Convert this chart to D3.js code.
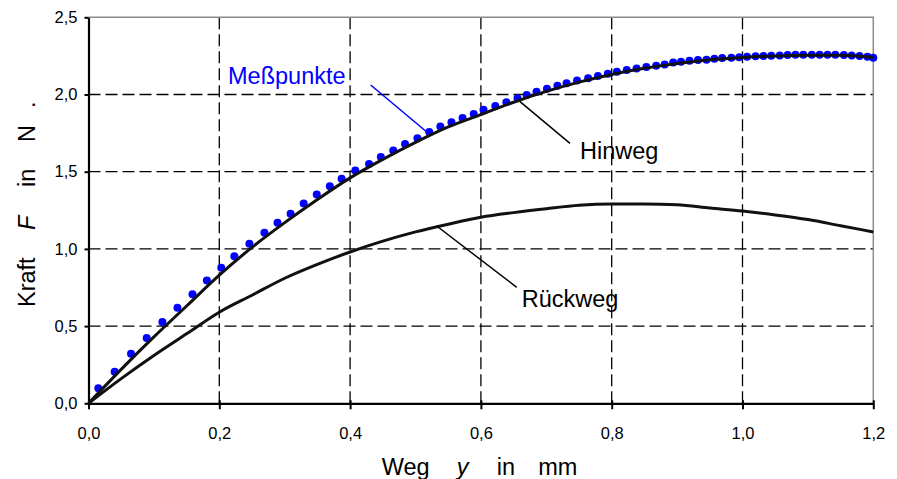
<!DOCTYPE html>
<html>
<head>
<meta charset="utf-8">
<script src="https://cdn.jsdelivr.net/npm/d3@7"></script>
<style>
  html, body { margin: 0; padding: 0; background: #fff; }
  svg { display: block; font-family: "Liberation Sans", Arial, sans-serif; }
</style>
</head>
<body>
<svg id="chart" width="897" height="479"></svg>
<script>
// ---- data ----
const xTicks = [0, 0.2, 0.4, 0.6, 0.8, 1.0, 1.2];
const xTickLabels = ["0,0", "0,2", "0,4", "0,6", "0,8", "1,0", "1,2"];
const yTicks = [0, 0.5, 1.0, 1.5, 2.0, 2.5];
const yTickLabels = ["0,0", "0,5", "1,0", "1,5", "2,0", "2,5"];

// Meßpunkte (measured points)
const pointsX = [0.015,0.040,0.065,0.089,0.113,0.136,0.159,0.181,0.203,0.223,0.246,0.269,0.289,
  0.309,0.329,0.349,0.369,0.387,0.408,0.429,0.447,0.466,0.484,0.503,0.521,0.538,0.555,0.572,0.589,
  0.604,0.622,0.639,0.656,0.670,0.685,0.701,0.717,0.731,0.747,0.764,0.779,0.794,0.808,0.823,0.838,0.853,0.868,0.881,
  0.894,0.906,0.919,0.932,0.945,0.957,0.969,0.983,0.995,1.007,1.020,1.032,1.044,1.057,1.069,1.081,1.093,1.106,1.118,1.130,1.142,1.155,1.167,1.179,1.191,1.200];
const pointsF = [0.097,0.205,0.321,0.423,0.526,0.619,0.707,0.796,0.878,0.953,1.033,1.104,1.169,
  1.227,1.294,1.352,1.406,1.455,1.507,1.550,1.596,1.638,1.680,1.716,1.757,1.792,1.820,1.848,1.874,
  1.902,1.925,1.950,1.975,1.997,2.018,2.038,2.056,2.073,2.090,2.106,2.120,2.134,2.147,2.158,2.168,2.178,2.187,2.195,
  2.208,2.212,2.219,2.223,2.225,2.232,2.236,2.238,2.242,2.244,2.247,2.249,2.251,2.253,2.256,2.258,2.258,2.258,2.258,2.258,2.258,2.256,2.253,2.249,2.245,2.238];

// Hinweg curve
const hinX = [0,0.05,0.10,0.15,0.20,0.25,0.30,0.35,0.40,0.45,0.50,0.55,0.60,0.65,0.70,0.75,0.80,0.85,0.90,0.95,1.00,1.05,1.10,1.15,1.20];
const hinF = [0,0.22,0.43,0.63,0.83,1.01,1.17,1.32,1.46,1.58,1.69,1.79,1.87,1.95,2.02,2.08,2.13,2.17,2.20,2.225,2.24,2.25,2.255,2.255,2.24];

// Rückweg curve
const rueX = [0,0.05,0.10,0.15,0.20,0.25,0.30,0.35,0.40,0.45,0.50,0.55,0.60,0.65,0.70,0.75,0.80,0.85,0.90,0.95,1.00,1.05,1.10,1.15,1.20];
const rueF = [0,0.16,0.31,0.45,0.59,0.70,0.81,0.90,0.98,1.05,1.11,1.16,1.205,1.235,1.26,1.282,1.29,1.29,1.286,1.265,1.245,1.22,1.19,1.15,1.11];

// ---- layout ----
const svg = d3.select("#chart");
const L = 88.5, R = 873.3, T = 17.3, B = 403.3;
const x = d3.scaleLinear().domain([0, 1.2]).range([L, R]);
const y = d3.scaleLinear().domain([0, 2.5]).range([B, T]);

svg.append("rect").attr("width", 897).attr("height", 479).attr("fill", "#fff");

// grid
const grid = svg.append("g");
grid.selectAll("line.gx").data(xTicks.slice(1, -1)).enter().append("line")
  .attr("x1", d => x(d)).attr("x2", d => x(d)).attr("y1", T).attr("y2", B)
  .attr("stroke", "#000").attr("stroke-width", 1.3).attr("stroke-dasharray", "12,5");
grid.selectAll("line.gy").data(yTicks.slice(1, -1)).enter().append("line")
  .attr("y1", d => y(d)).attr("y2", d => y(d)).attr("x1", L).attr("x2", R)
  .attr("stroke", "#000").attr("stroke-width", 1.3).attr("stroke-dasharray", "12,5");

// frame top/right (gray)
svg.append("path").attr("d", `M${L},${T}H${R}V${B}`).attr("fill", "none")
  .attr("stroke", "#8c8c8c").attr("stroke-width", 1.5);

// axes
const xAxis = d3.axisBottom(x).tickValues(xTicks).tickFormat((d, i) => xTickLabels[i])
  .tickSizeInner(6).tickSizeOuter(0).tickPadding(18);
const gx = svg.append("g").attr("transform", `translate(0,${B})`).call(xAxis);
gx.select(".domain").attr("stroke", "#000").attr("stroke-width", 2.2);
gx.selectAll(".tick line").attr("stroke", "#000").attr("stroke-width", 2).attr("y1", -3);
gx.selectAll(".tick text").attr("font-size", "16.5px").attr("fill", "#000")
  .attr("font-family", "Liberation Sans, Arial, sans-serif");

const yAxis = d3.axisLeft(y).tickValues(yTicks).tickFormat((d, i) => yTickLabels[i])
  .tickSizeInner(4).tickSizeOuter(0).tickPadding(7);
const gy = svg.append("g").attr("transform", `translate(${L},0)`).call(yAxis);
gy.select(".domain").attr("stroke", "#000").attr("stroke-width", 2.2);
gy.selectAll(".tick line").attr("stroke", "#000").attr("stroke-width", 2);
gy.selectAll(".tick text").attr("font-size", "16.5px").attr("fill", "#000")
  .attr("font-family", "Liberation Sans, Arial, sans-serif");

// measured points
svg.append("g").selectAll("circle").data(pointsX.map((v, i) => [v, pointsF[i]])).enter()
  .append("circle").attr("cx", d => x(d[0])).attr("cy", d => y(d[1])).attr("r", 4)
  .attr("fill", "#0000ff");

// curves
const line = d3.line().x(d => x(d[0])).y(d => y(d[1])).curve(d3.curveMonotoneX);
svg.append("path").datum(hinX.map((v, i) => [v, hinF[i]])).attr("d", line)
  .attr("fill", "none").attr("stroke", "#111").attr("stroke-width", 3);
svg.append("path").datum(rueX.map((v, i) => [v, rueF[i]])).attr("d", line)
  .attr("fill", "none").attr("stroke", "#111").attr("stroke-width", 3);

// annotations
const ann = svg.append("g").attr("font-size", "23.5px");
ann.append("line").attr("x1", 370.7).attr("y1", 85).attr("x2", 428.3).attr("y2", 133.3)
  .attr("stroke", "#0000ff").attr("stroke-width", 1.5);
ann.append("text").attr("x", 228).attr("y", 84).attr("fill", "#0000ff").text("Meßpunkte");
ann.append("line").attr("x1", 520).attr("y1", 101.7).attr("x2", 570).attr("y2", 143.3)
  .attr("stroke", "#000").attr("stroke-width", 1.5);
ann.append("text").attr("x", 580).attr("y", 159).attr("fill", "#000").text("Hinweg");
ann.append("line").attr("x1", 436.7).attr("y1", 226).attr("x2", 516.7).attr("y2", 287.3)
  .attr("stroke", "#000").attr("stroke-width", 1.5);
ann.append("text").attr("x", 521.7).attr("y", 307).attr("fill", "#000").text("Rückweg");

// axis titles
const xt = svg.append("g").attr("font-size", "23.5px").attr("fill", "#000");
xt.append("text").attr("x", 381.7).attr("y", 475).text("Weg");
xt.append("text").attr("x", 456.7).attr("y", 475).attr("font-style", "italic").text("y");
xt.append("text").attr("x", 496.7).attr("y", 475).text("in");
xt.append("text").attr("x", 538.3).attr("y", 475).text("mm");

const yt = svg.append("g").attr("font-size", "23.5px").attr("fill", "#000");
[["Kraft", 307, false], ["F", 230, true], ["in", 187, false], ["N", 142, false], [".", 108, false]]
  .forEach(([t, py, it]) => {
    yt.append("text").attr("transform", `translate(35,${py}) rotate(-90)`)
      .attr("font-style", it ? "italic" : "normal").text(t);
  });
</script>
</body>
</html>
